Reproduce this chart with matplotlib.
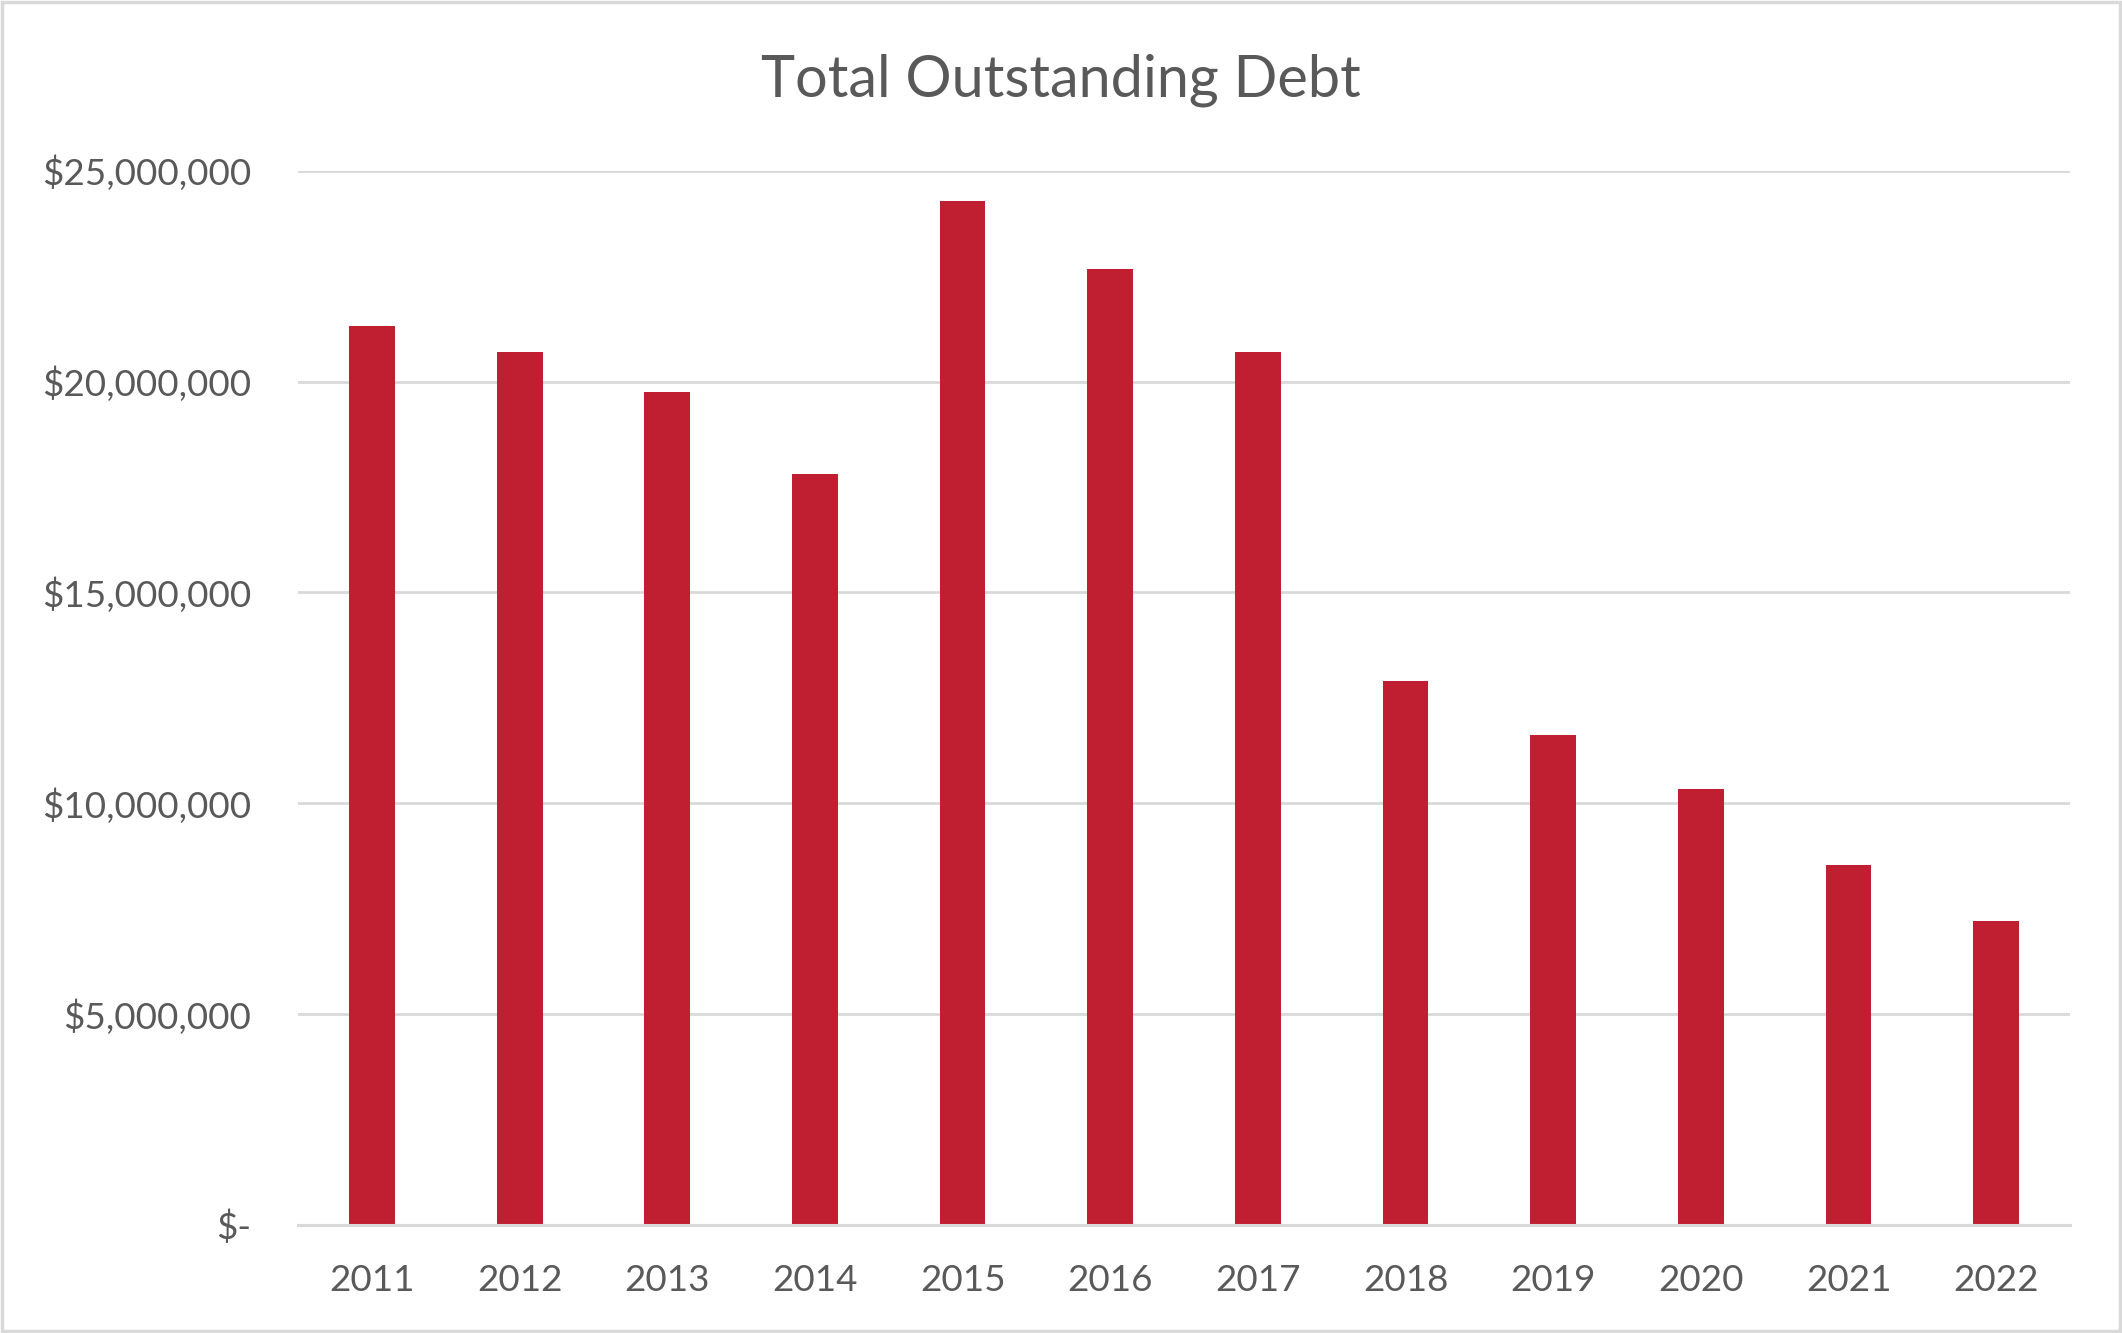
import matplotlib
matplotlib.use("Agg")
import matplotlib.pyplot as plt
from matplotlib.ticker import FuncFormatter
from matplotlib.patches import Rectangle

# data
years = ["2011", "2012", "2013", "2014", "2015", "2016",
         "2017", "2018", "2019", "2020", "2021", "2022"]
debt = [21.31e6, 20.70e6, 19.74e6, 17.81e6, 24.29e6, 22.66e6,
        20.70e6, 12.90e6, 11.62e6, 10.33e6, 8.54e6, 7.22e6]
y_ticks = [0, 5e6, 10e6, 15e6, 20e6, 25e6]

BAR_COLOR = "#C01F32"
TEXT_COLOR = "#595959"
GRID_COLOR = "#D9D9D9"

plt.rcParams['font.family'] = ['Lato', 'DejaVu Sans']


def money(v, pos):
    if v == 0:
        return "$-"
    return "${:,.0f}".format(v)


fig = plt.figure(figsize=(21.22, 13.33), dpi=100)
ax = fig.add_axes([0.1405, 0.081, 0.835, 0.791])

x = range(len(years))
ax.bar(x, debt, width=0.31, color=BAR_COLOR, zorder=3)

ax.set_xlim(-0.5, len(years) - 0.5)
ax.set_ylim(0, 25e6)
ax.set_yticks(y_ticks)
ax.yaxis.set_major_formatter(FuncFormatter(money))
ax.set_xticks(list(x))
ax.set_xticklabels(years)

ax.tick_params(axis="both", length=0, labelsize=26.5, labelcolor=TEXT_COLOR)
ax.tick_params(axis="y", pad=34)
ax.tick_params(axis="x", pad=28)

ax.grid(axis="y", color=GRID_COLOR, linewidth=2.0, zorder=0)
for side in ["top", "right", "left"]:
    ax.spines[side].set_visible(False)
ax.spines["bottom"].set_color(GRID_COLOR)
ax.spines["bottom"].set_linewidth(2.2)
ax.spines["bottom"].set_zorder(4)

fig.text(0.5, 0.940, "Total Outstanding Debt", ha="center", va="center",
         fontsize=41.5, color=TEXT_COLOR)

# light frame round the whole chart
fig.patches.append(Rectangle((0.001, 0.0015), 0.998, 0.997, transform=fig.transFigure,
                             fill=False, edgecolor=GRID_COLOR, linewidth=2.5))

fig.savefig("out.png", dpi=100, facecolor="white")
